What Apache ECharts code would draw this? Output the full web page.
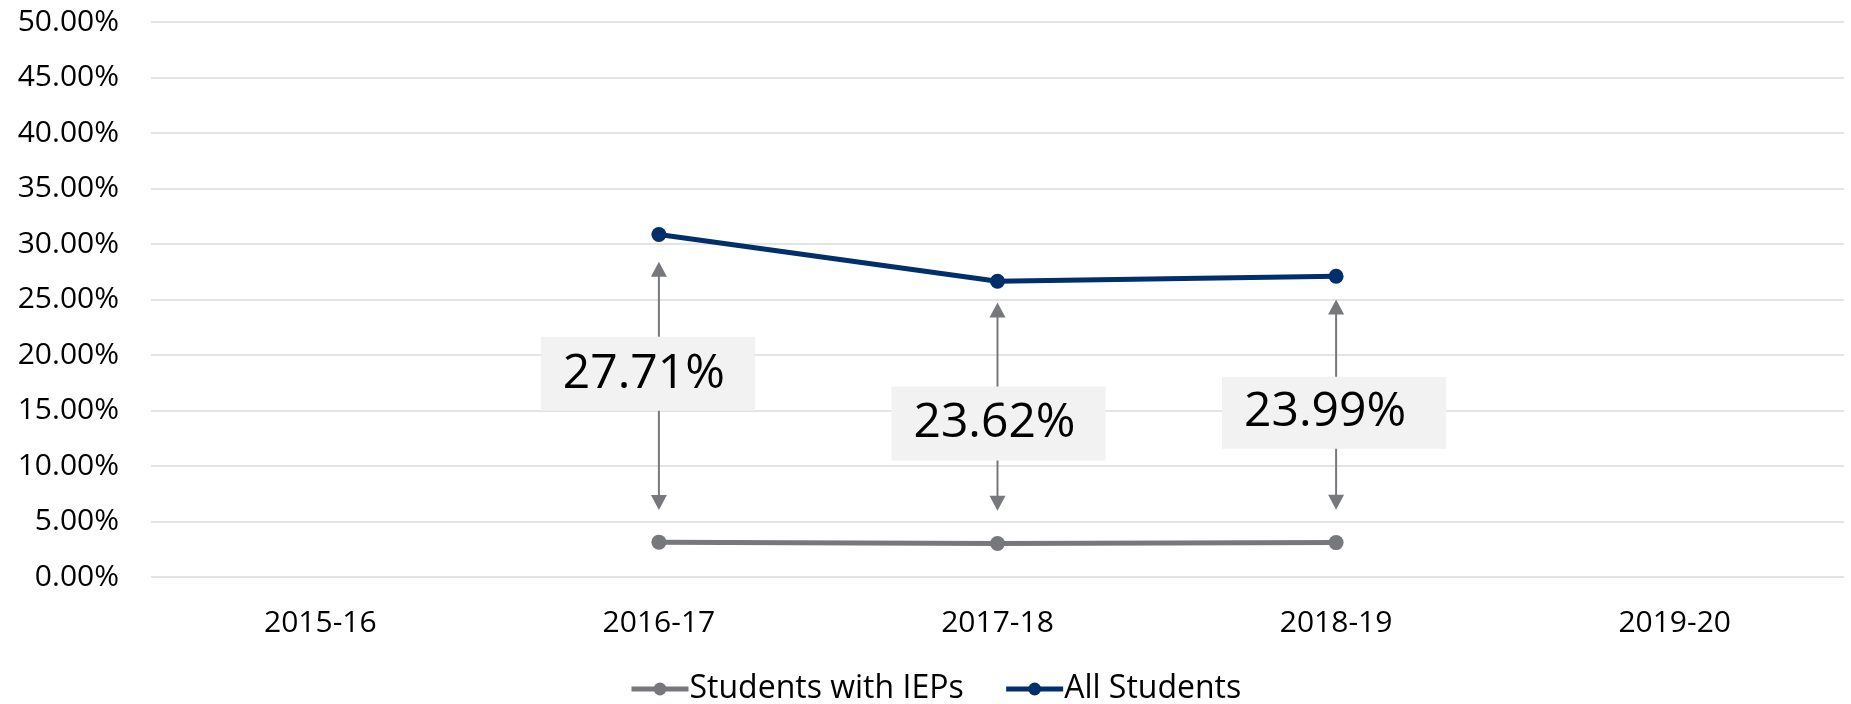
<!DOCTYPE html>
<html>
<head>
<meta charset="utf-8">
<script src="https://cdn.jsdelivr.net/npm/echarts@6/dist/echarts.min.js"></script>
<style>
  html, body { margin: 0; padding: 0; background: #fff; }
  #chart { width: 1851px; height: 704px; }
</style>
</head>
<body>
<div id="chart"></div>
<script>
// ---- data ----
const categories = ['2015-16', '2016-17', '2017-18', '2018-19', '2019-20'];
const iepValues = [null, 3.14, 3.02, 3.10, null];
const allValues = [null, 30.85, 26.64, 27.09, null];
const gapLabels = ['', '27.71%', '23.62%', '23.99%', ''];
const yTicks = { min: 0, max: 50, interval: 5 };

// ---- styles ----
const FONT = 'Open Sans';
const GRAY = '#76787b';
const NAVY = '#002f6c';
const arrowTopGap = [null, 2.45, 1.9, 2.1, null];    // below All Students point (data units)
const arrowBottomGap = [null, 2.9, 2.95, 2.95, null]; // above IEP point (data units)
const labelOffsets = [null, [-11, -12], [1, 17], [-2, 8], null];
const labelPadding = [null, [13, 30, 13, 22], [13, 30, 13, 22], [12, 40, 12, 22], null];

// rows for the annotation series: [category index, IEP value, All value]
const gapRows = [];
categories.forEach((c, i) => {
  if (allValues[i] == null || iepValues[i] == null) return;
  gapRows.push([i, iepValues[i], allValues[i]]);
});

function renderGap(params, api) {
  const i = api.value(0);
  const top = api.coord([i, api.value(2) - arrowTopGap[i]]);
  const bot = api.coord([i, api.value(1) + arrowBottomGap[i]]);
  const x = top[0];
  const headL = 15, headW = 8;
  const midY = (top[1] + bot[1]) / 2;
  const off = labelOffsets[i];
  return {
    type: 'group',
    children: [
      {
        type: 'line',
        shape: { x1: x, y1: top[1] + headL - 1, x2: x, y2: bot[1] - headL + 1 },
        style: { stroke: GRAY, lineWidth: 2 }
      },
      {
        type: 'polygon',
        shape: { points: [[x, top[1]], [x - headW, top[1] + headL], [x + headW, top[1] + headL]] },
        style: { fill: GRAY }
      },
      {
        type: 'polygon',
        shape: { points: [[x, bot[1]], [x - headW, bot[1] - headL], [x + headW, bot[1] - headL]] },
        style: { fill: GRAY }
      },
      {
        type: 'text',
        x: x + off[0],
        y: midY + off[1],
        style: {
          text: gapLabels[i],
          fontFamily: FONT,
          fontSize: 48,
          fill: '#000',
          align: 'center',
          verticalAlign: 'middle',
          backgroundColor: '#f2f2f2',
          padding: labelPadding[i]
        }
      }
    ]
  };
}

const chart = echarts.init(document.getElementById('chart'));
chart.setOption({
  animation: false,
  textStyle: { fontFamily: FONT },
  grid: { left: 151, right: 7, top: 22, bottom: 127 },
  legend: {
    data: [
      { name: 'Students with IEPs', lineStyle: { color: GRAY, width: 5 }, itemStyle: { color: GRAY } },
      { name: 'All Students', lineStyle: { color: NAVY, width: 5 }, itemStyle: { color: NAVY } }
    ],
    left: 629,
    top: 673,
    padding: 0,
    itemWidth: 57,
    itemHeight: 16,
    itemGap: 40,
    textStyle: { fontFamily: FONT, fontSize: 32, color: '#000', padding: [0, 0, 0, -4] }
  },
  xAxis: {
    type: 'category',
    data: categories,
    boundaryGap: true,
    axisLine: { show: false },
    axisTick: { show: false },
    axisLabel: { fontFamily: FONT, fontSize: 30, color: '#000', margin: 31 }
  },
  yAxis: {
    type: 'value',
    min: yTicks.min,
    max: yTicks.max,
    interval: yTicks.interval,
    axisLine: { show: false },
    axisTick: { show: false },
    axisLabel: {
      fontFamily: FONT, fontSize: 30, color: '#000', margin: 32,
      formatter: v => v.toFixed(2) + '%'
    },
    splitLine: { lineStyle: { color: '#e4e4e4', width: 2 } }
  },
  series: [
    {
      name: 'Students with IEPs',
      type: 'line',
      data: iepValues,
      symbol: 'circle',
      symbolSize: 15,
      lineStyle: { color: GRAY, width: 5 },
      itemStyle: { color: GRAY },
      z: 3
    },
    {
      name: 'All Students',
      type: 'line',
      data: allValues,
      symbol: 'circle',
      symbolSize: 15,
      lineStyle: { color: NAVY, width: 5 },
      itemStyle: { color: NAVY },
      z: 3
    },
    {
      name: 'gap',
      type: 'custom',
      data: gapRows,
      silent: true,
      z: 4,
      encode: { x: 0, y: [1, 2] },
      renderItem: renderGap
    }
  ]
});
</script>
</body>
</html>
